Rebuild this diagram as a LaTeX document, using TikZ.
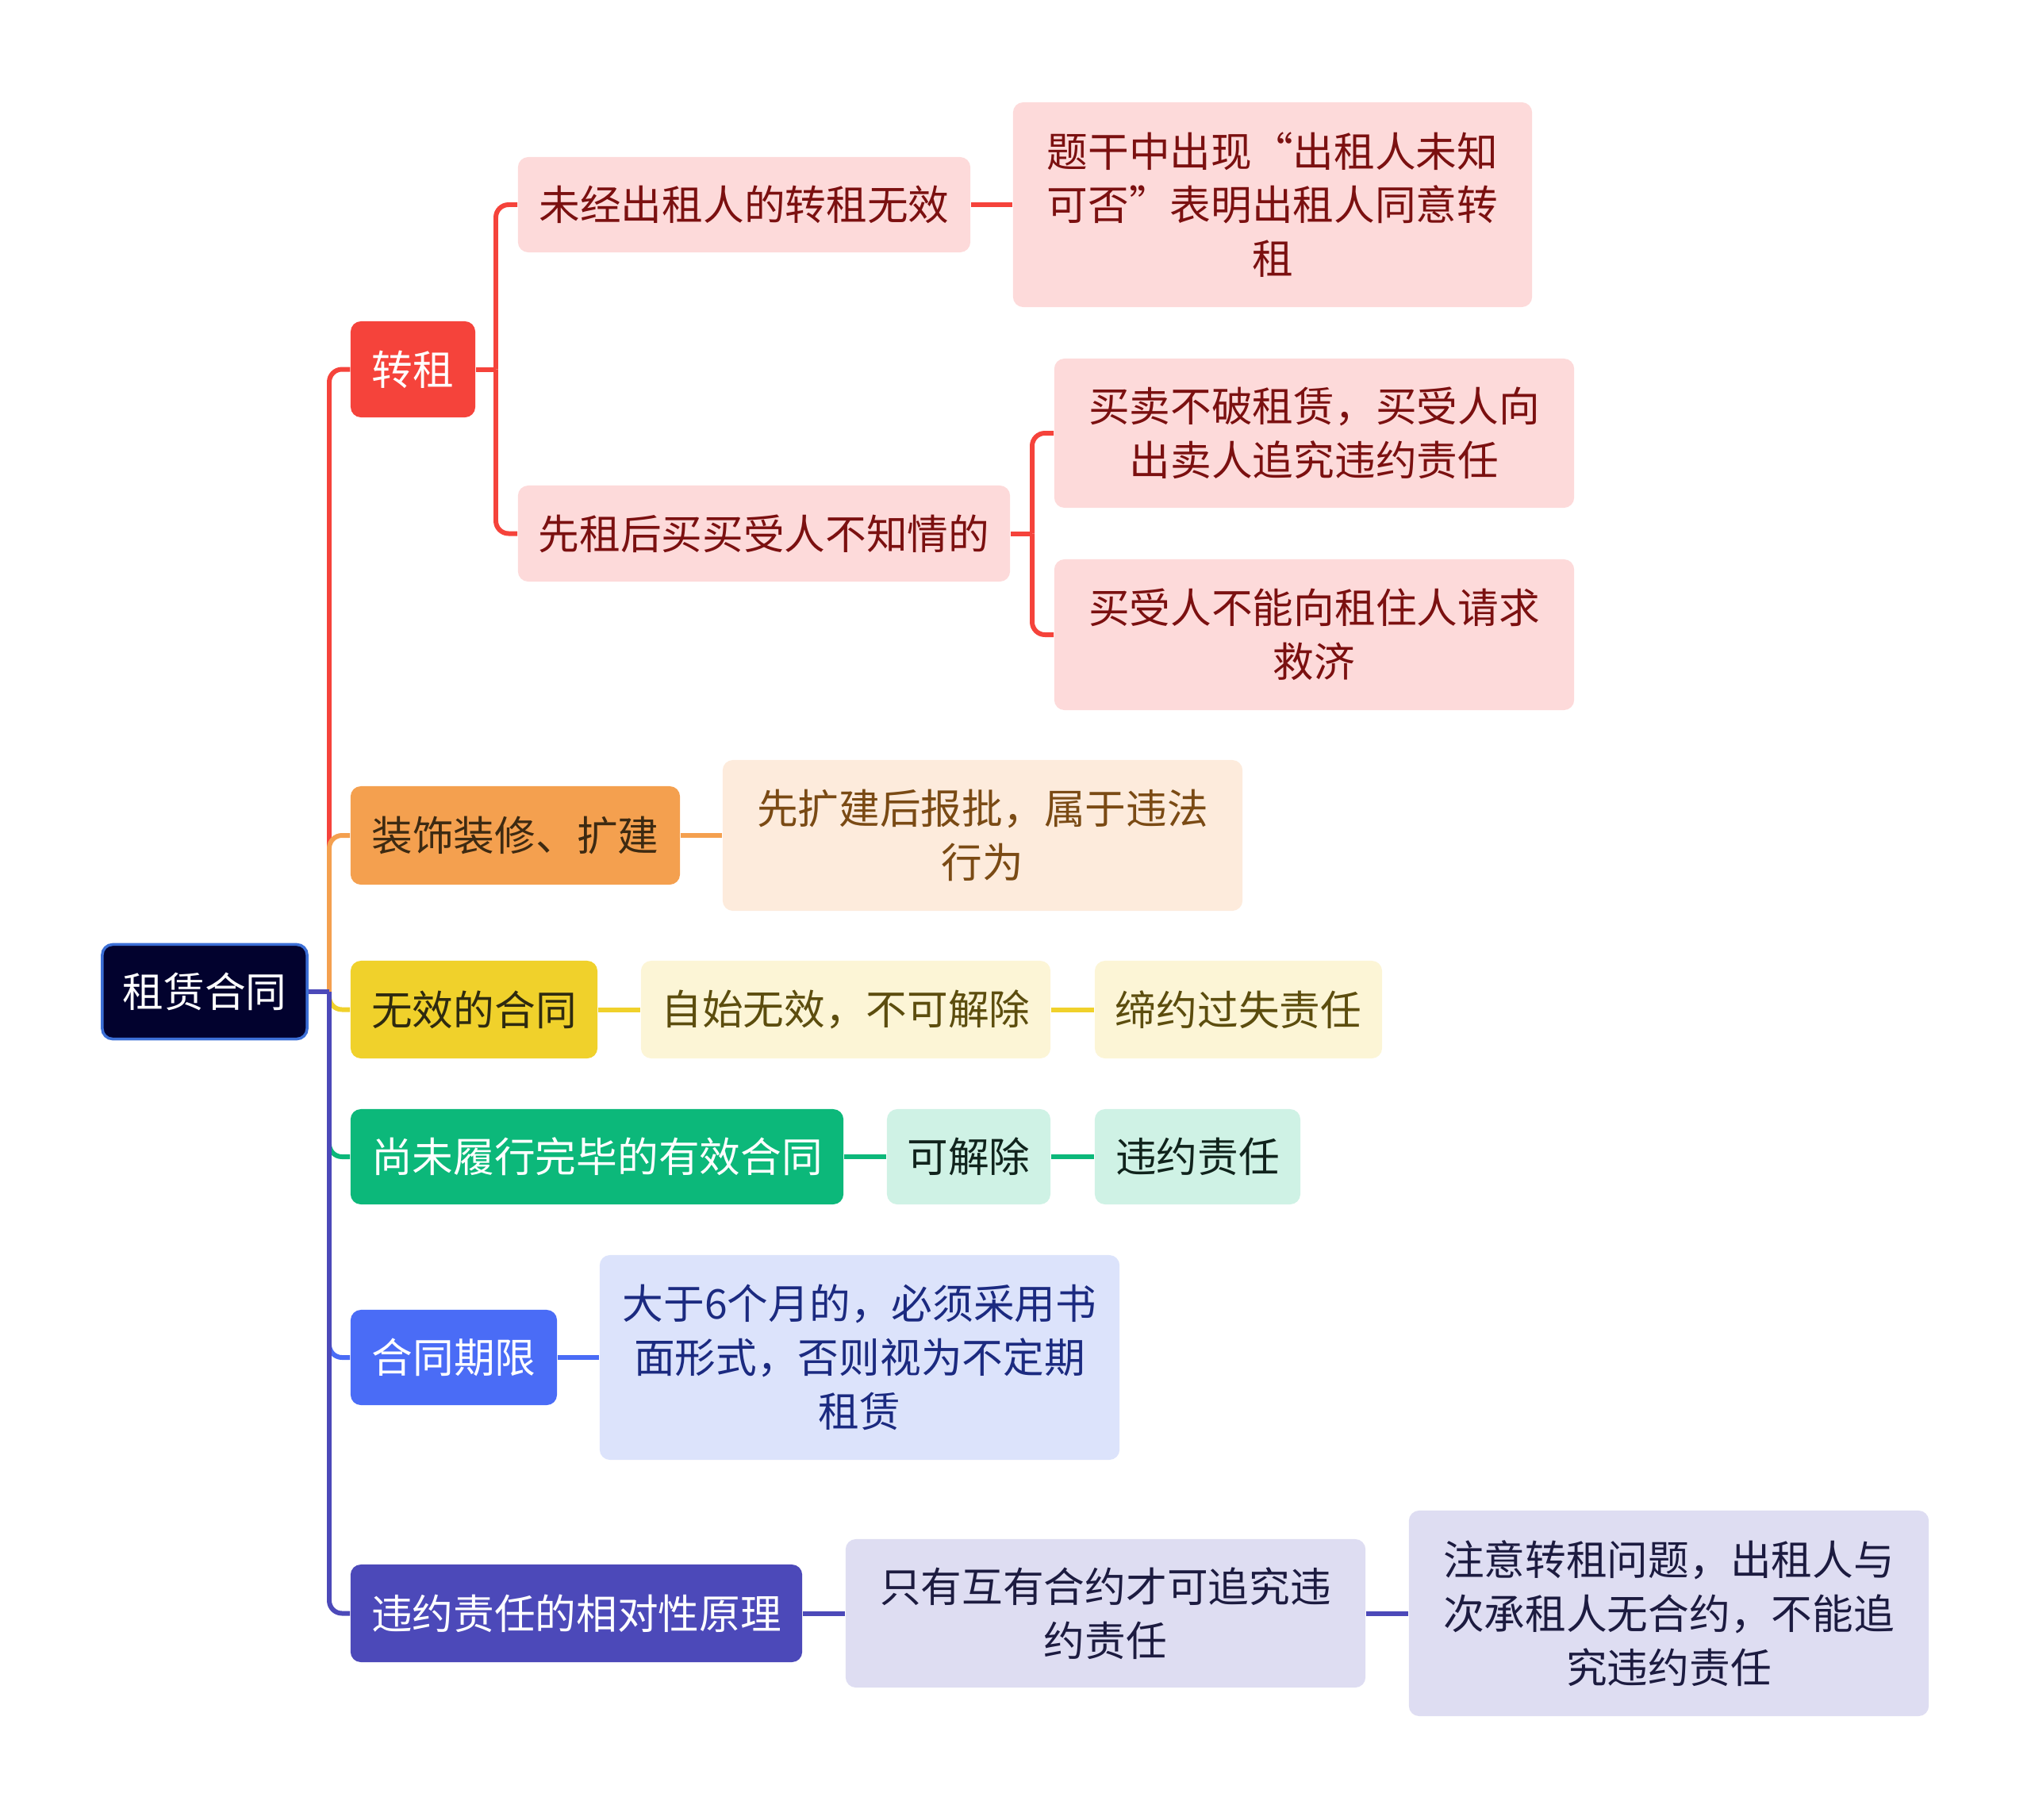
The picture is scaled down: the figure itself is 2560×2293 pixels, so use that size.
\documentclass[tikz,border=0pt]{standalone}
\usepackage{fontspec}
\setmainfont{Noto Sans CJK SC}
\usepackage{tikz}
\usetikzlibrary{positioning}

\definecolor{rootfill}{HTML}{02022E}
\definecolor{rootline}{HTML}{3C6FD6}
\definecolor{redm}{HTML}{F5433B}
\definecolor{redl}{HTML}{FDDADA}
\definecolor{redt}{HTML}{7B1010}
\definecolor{orgm}{HTML}{F4A04F}
\definecolor{orgl}{HTML}{FDEBDC}
\definecolor{orgt}{HTML}{7A4A14}
\definecolor{orgd}{HTML}{3D2A12}
\definecolor{yelm}{HTML}{F0D12B}
\definecolor{yell}{HTML}{FCF5D6}
\definecolor{yelt}{HTML}{5C4D0E}
\definecolor{yeld}{HTML}{2E2A10}
\definecolor{grnm}{HTML}{0CB87A}
\definecolor{grnl}{HTML}{CFF2E5}
\definecolor{grnt}{HTML}{10231C}
\definecolor{blum}{HTML}{4A6CF6}
\definecolor{blul}{HTML}{DCE3FB}
\definecolor{blut}{HTML}{1B2A80}
\definecolor{indm}{HTML}{4C49B9}
\definecolor{indl}{HTML}{DEDDF2}
\definecolor{indt}{HTML}{1C1B40}

\begin{document}
\begin{tikzpicture}[
    x=0.01cm, y=-0.01cm,
    font=\fontsize{14.7}{19.3}\selectfont,
    box/.style={rounded corners=0.13cm, inner sep=0pt, align=center},
    link/.style={line width=1.7pt, rounded corners=0.16cm},
    redbox/.style={box, fill=redl, text=redt},
    orgbox/.style={box, fill=orgl, text=orgt},
    yelbox/.style={box, fill=yell, text=yelt},
    grnbox/.style={box, fill=grnl, text=grnt},
    blubox/.style={box, fill=blul, text=blut},
    indbox/.style={box, fill=indl, text=indt},
]
    \useasboundingbox (0,0) rectangle (2560,2293);
    % root
    \node[box, fill=rootfill, draw=rootline, line width=1pt, text=white,
          minimum width=2.58cm, minimum height=1.19cm] (root) at (258,1250) {租赁合同};
    % main branches
    \node[box, fill=redm, text=white, minimum width=1.57cm, minimum height=1.21cm] (zz) at (520.5,465.5) {转租};
    \node[box, fill=orgm, text=orgd, minimum width=4.15cm, minimum height=1.24cm] (zs) at (649.5,1053) {装饰装修、扩建};
    \node[box, fill=yelm, text=yeld, minimum width=3.11cm, minimum height=1.23cm] (wx) at (597.5,1272.5) {无效的合同};
    \node[box, fill=grnm, text=white, minimum width=6.21cm, minimum height=1.20cm] (wl) at (752.5,1458) {尚未履行完毕的有效合同};
    \node[box, fill=blum, text=white, minimum width=2.60cm, minimum height=1.20cm] (qx) at (572,1711) {合同期限};
    \node[box, fill=indm, text=white, minimum width=5.69cm, minimum height=1.23cm] (xd) at (726.5,2033.5) {违约责任的相对性原理};
    % sub topics
    \node[redbox, minimum width=5.70cm, minimum height=1.20cm] (a1) at (938,258) {未经出租人的转租无效};
    \node[redbox, minimum width=6.54cm, minimum height=2.58cm] (a2) at (1604,258) {题干中出现“出租人未知\\可否”表明出租人同意转\\租};
    \node[redbox, minimum width=6.20cm, minimum height=1.21cm] (b1) at (963,672.5) {先租后买买受人不知情的};
    \node[redbox, minimum width=6.55cm, minimum height=1.88cm] (b2) at (1656.5,546) {买卖不破租赁，买受人向\\出卖人追究违约责任};
    \node[redbox, minimum width=6.55cm, minimum height=1.90cm] (b3) at (1656.5,800) {买受人不能向租住人请求\\救济};
    \node[orgbox, minimum width=6.55cm, minimum height=1.90cm] (c1) at (1238.5,1053) {先扩建后报批，属于违法\\行为};
    \node[yelbox, minimum width=5.16cm, minimum height=1.23cm] (d1) at (1066,1272.5) {自始无效，不可解除};
    \node[yelbox, minimum width=3.62cm, minimum height=1.23cm] (d2) at (1561,1272.5) {缔约过失责任};
    \node[grnbox, minimum width=2.06cm, minimum height=1.20cm] (e1) at (1221,1458) {可解除};
    \node[grnbox, minimum width=2.59cm, minimum height=1.20cm] (e2) at (1509.5,1458) {违约责任};
    \node[blubox, minimum width=6.55cm, minimum height=2.58cm] (f1) at (1083.5,1711) {大于6个月的，必须采用书\\面形式，否则视为不定期\\租赁};
    \node[indbox, minimum width=6.55cm, minimum height=1.87cm] (g1) at (1393.5,2033.5) {只有互有合约才可追究违\\约责任};
    \node[indbox, minimum width=6.55cm, minimum height=2.59cm] (g2) at (2103.5,2033.5) {注意转租问题，出租人与\\次承租人无合约，不能追\\究违约责任};
    % hubs
    \coordinate (hub) at (415,1250);
    \coordinate (zzhub) at (625,465.5);
    \coordinate (b1hub) at (1301,672.5);
    % trunk
    \draw[link, redm] (hub) |- (zz.west);
    \draw[link, orgm] (hub) |- (zs.west);
    \draw[link, yelm] (hub) |- (wx.west);
    \draw[link, grnm] (hub) |- (wl.west);
    \draw[link, blum] (hub) |- (qx.west);
    \draw[link, indm] (hub) |- (xd.west);
    \draw[link, indm] (root.east) -- (hub);
    % red branch
    \draw[link, redm] (zz.east) -- (zzhub);
    \draw[link, redm] (zzhub) |- (a1.west);
    \draw[link, redm] (zzhub) |- (b1.west);
    \draw[link, redm] (a1.east) -- (a2.west);
    \draw[link, redm] (b1.east) -- (b1hub);
    \draw[link, redm] (b1hub) |- (b2.west);
    \draw[link, redm] (b1hub) |- (b3.west);
    % other branches
    \draw[link, orgm] (zs.east) -- (c1.west);
    \draw[link, yelm] (wx.east) -- (d1.west);
    \draw[link, yelm] (d1.east) -- (d2.west);
    \draw[link, grnm] (wl.east) -- (e1.west);
    \draw[link, grnm] (e1.east) -- (e2.west);
    \draw[link, blum] (qx.east) -- (f1.west);
    \draw[link, indm] (xd.east) -- (g1.west);
    \draw[link, indm] (g1.east) -- (g2.west);
\end{tikzpicture}
\end{document}
